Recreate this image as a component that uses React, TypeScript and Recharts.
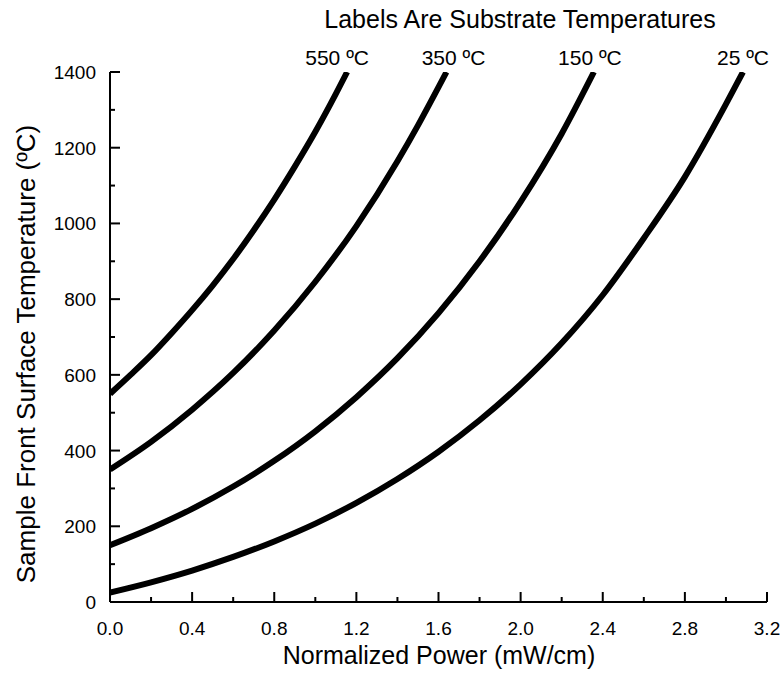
import React from 'react';
import { LineChart, Line, XAxis, YAxis, LabelList } from 'recharts';

// Power for each curve (mW/cm), and the matching surface temperature (ºC)
const power550 = [0, 0.1, 0.2, 0.3, 0.4, 0.5, 0.6, 0.7, 0.8, 0.9, 1.0, 1.1, 1.155];
const temp550 = [550, 600, 652, 710, 771, 836, 906, 982, 1063, 1150, 1242, 1342, 1400];

const power350 = [0, 0.2, 0.4, 0.6, 0.8, 1.0, 1.2, 1.4, 1.5, 1.6, 1.639];
const temp350 = [350, 423, 508, 605, 717, 846, 993, 1164, 1259, 1360, 1400];

const power150 = [0, 0.2, 0.4, 0.6, 0.8, 1.0, 1.2, 1.4, 1.6, 1.8, 2.0, 2.2, 2.357];
const temp150 = [150, 195, 246, 305, 373, 451, 541, 644, 763, 900, 1057, 1237, 1400];

const power25 = [0, 0.2, 0.4, 0.6, 0.8, 1.0, 1.2, 1.4, 1.6, 1.8, 2.0, 2.2, 2.4, 2.6, 2.8, 3.0, 3.083];
const temp25 = [25, 52, 83, 119, 160, 207, 262, 325, 397, 480, 575, 684, 811, 961, 1123, 1315, 1400];

const seriesLabels = ['550 ºC', '350 ºC', '150 ºC', '25 ºC'];
// small horizontal nudges of the labels, the original is not exactly centred on the curve ends
const labelNudge = [-10, 7, -4, 0];

const xTicks = [0, 0.2, 0.4, 0.6, 0.8, 1.0, 1.2, 1.4, 1.6, 1.8, 2.0, 2.2, 2.4, 2.6, 2.8, 3.0, 3.2];
const yTicks = [0, 100, 200, 300, 400, 500, 600, 700, 800, 900, 1000, 1100, 1200, 1300, 1400];

const FONT = '"Liberation Sans", Arial, sans-serif';

const toPoints = (xs: number[], ys: number[]) => xs.map((x, i) => ({ x, y: ys[i] }));

const curves = [
    toPoints(power550, temp550),
    toPoints(power350, temp350),
    toPoints(power150, temp150),
    toPoints(power25, temp25),
];

// ticks point into the plot, long ones get a label
const YTick = (props: any) => {
    const { x, y, payload } = props;
    const major = payload.value % 200 === 0;
    return (
        <g>
            <line x1={x} x2={x + (major ? 10 : 5)} y1={y} y2={y} stroke="#000" strokeWidth={2} />
            {major && (
                <text x={x - 14} y={y} dy={7} textAnchor="end" fontSize={19} fontFamily={FONT} fill="#000">
                    {payload.value}
                </text>
            )}
        </g>
    );
};

const XTick = (props: any) => {
    const { x, y, payload } = props;
    const major = Math.round(payload.value * 10) % 4 === 0;
    return (
        <g>
            <line x1={x} x2={x} y1={y} y2={y - (major ? 10 : 5)} stroke="#000" strokeWidth={2} />
            {major && (
                <text x={x} y={y + 33} textAnchor="middle" fontSize={19} fontFamily={FONT} fill="#000">
                    {payload.value.toFixed(1)}
                </text>
            )}
        </g>
    );
};

// put the substrate temperature above the last point of a curve
const endLabel = (text: string, lastIndex: number, dx: number) => (props: any) => {
    const { x, y, index } = props;
    if (index !== lastIndex) return null;
    return (
        <text x={x + dx} y={y - 7} textAnchor="middle" fontSize={21} fontFamily={FONT} fill="#000">
            {text}
        </text>
    );
};

const App: React.FC = () => {
    return (
        <div style={{ position: 'absolute', left: 0, top: 0, width: 783, height: 679, background: '#fff', fontFamily: FONT }}>
            <LineChart width={783} height={679} margin={{ top: 72, right: 16, left: 50, bottom: 47 }}>
                <XAxis
                    type="number"
                    dataKey="x"
                    domain={[0, 3.2]}
                    ticks={xTicks}
                    interval={0}
                    height={30}
                    tickSize={0}
                    tickMargin={0}
                    tickLine={false}
                    tick={<XTick />}
                    axisLine={{ stroke: '#000', strokeWidth: 2 }}
                    allowDataOverflow
                />
                <YAxis
                    type="number"
                    dataKey="y"
                    domain={[0, 1400]}
                    ticks={yTicks}
                    interval={0}
                    width={60}
                    tickSize={0}
                    tickMargin={0}
                    tickLine={false}
                    tick={<YTick />}
                    axisLine={{ stroke: '#000', strokeWidth: 2 }}
                    allowDataOverflow
                />
                {curves.map((pts, i) => (
                    <Line
                        key={seriesLabels[i]}
                        data={pts}
                        dataKey="y"
                        type="monotone"
                        stroke="#000"
                        strokeWidth={6}
                        dot={false}
                        isAnimationActive={false}
                    >
                        <LabelList dataKey="y" content={endLabel(seriesLabels[i], pts.length - 1, labelNudge[i])} />
                    </Line>
                ))}
            </LineChart>

            <div style={{ position: 'absolute', left: 220, top: 4, width: 600, textAlign: 'center', fontSize: 25, lineHeight: '30px' }}>
                Labels Are Substrate Temperatures
            </div>
            <div style={{ position: 'absolute', left: 139, top: 640, width: 600, textAlign: 'center', fontSize: 25, lineHeight: '30px' }}>
                Normalized Power (mW/cm)
            </div>
            <div
                style={{
                    position: 'absolute',
                    left: 26 - 300,
                    top: 354 - 15,
                    width: 600,
                    textAlign: 'center',
                    fontSize: 26,
                    lineHeight: '30px',
                    transform: 'rotate(-90deg)',
                }}
            >
                Sample Front Surface Temperature (ºC)
            </div>
        </div>
    );
};

export default App;
